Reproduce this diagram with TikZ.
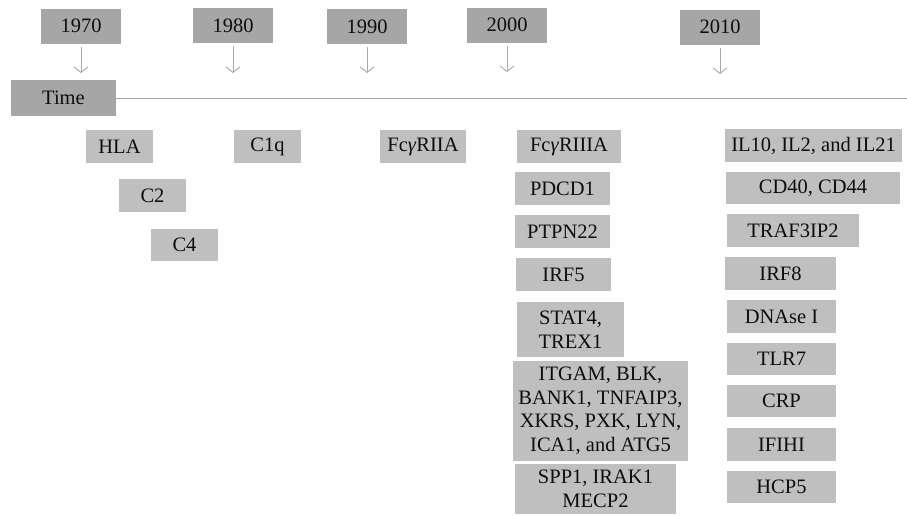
\documentclass[tikz,border=0pt]{standalone}
\usepackage{fontspec}
\setmainfont{Liberation Serif}
\usetikzlibrary{arrows.meta}
\definecolor{yeargray}{HTML}{A6A6A6}
\definecolor{genegray}{HTML}{BFBFBF}
\definecolor{linegray}{HTML}{A8A8A8}
\definecolor{txt}{HTML}{0D0D0D}
\newcommand{\gam}{\textit{γ}}
\tikzset{
  basebox/.style={inner sep=0pt, text=txt, align=center,
    font=\fontsize{20.5}{23.5}\selectfont},
  yearbox/.style={basebox, fill=yeargray, minimum width=80pt, minimum height=35pt},
  genebox/.style={basebox, fill=genegray},
  arr/.style={draw=linegray, line width=0.9pt, -{Straight Barb[length=5.5pt,width=14pt]}},
  axis/.style={draw=linegray, line width=1pt}
}
\begin{document}
\begin{tikzpicture}[x=1pt,y=-1pt]
\useasboundingbox (0,0) rectangle (907,515);
% years
\node[yearbox] (y1970) at (81,26) {1970};
\node[yearbox] (y1980) at (233,25.5) {1980};
\node[yearbox] (y1990) at (367,26.5) {1990};
\node[yearbox] (y2000) at (507,25) {2000};
\node[yearbox] (y2010) at (720,27) {2010};
\coordinate (a1970) at (81,73);
\coordinate (a1980) at (233,73);
\coordinate (a1990) at (367,73);
\coordinate (a2000) at (507,72);
\coordinate (a2010) at (720,74);
\draw[arr] ([yshift=-3pt]y1970.south) -- (a1970);
\draw[arr] ([yshift=-3pt]y1980.south) -- (a1980);
\draw[arr] ([yshift=-3pt]y1990.south) -- (a1990);
\draw[arr] ([yshift=-3pt]y2000.south) -- (a2000);
\draw[arr] ([yshift=-3pt]y2010.south) -- (a2010);
% time axis
\node[basebox, fill=yeargray, minimum width=105pt, minimum height=36pt] (time) at (63.5,98) {Time};
\coordinate (axend) at (907,98);
\draw[axis] (time.east) -- (axend);
% 1970s
\node[genebox, minimum width=67pt, minimum height=33pt] (hla) at (119.5,146.5) {HLA};
\node[genebox, minimum width=67pt, minimum height=33pt] (c2) at (152.5,195.5) {C2};
\node[genebox, minimum width=67pt, minimum height=32pt] (c4) at (184.5,245) {C4};
% 1980s
\node[genebox, minimum width=67pt, minimum height=33pt] (c1q) at (267.5,146.5) {C1q};
% 1990s
\node[genebox, minimum width=86pt, minimum height=33pt] (fc2a) at (423,146.5) {Fc\gam RIIA};
% 2000s
\node[genebox, minimum width=104pt, minimum height=33pt] (fc3a) at (569,146.5) {Fc\gam RIIIA};
\node[genebox, minimum width=95pt, minimum height=33pt] (pdcd1) at (562.5,188.5) {PDCD1};
\node[genebox, minimum width=95pt, minimum height=33pt] (ptpn22) at (562.5,231.5) {PTPN22};
\node[genebox, minimum width=95pt, minimum height=33pt] (irf5) at (563.5,274.5) {IRF5};
\node[genebox, minimum width=107pt, minimum height=55pt] (stat4) at (570.5,329.5) {STAT4,\\TREX1};
\node[genebox, minimum width=175pt, minimum height=100pt] (itgam) at (600.5,411) {ITGAM, BLK,\\BANK1, TNFAIP3,\\XKRS, PXK, LYN,\\ICA1, and ATG5};
\node[genebox, minimum width=161pt, minimum height=50pt] (spp1) at (595.5,489) {SPP1, IRAK1\\MECP2};
% 2010s
\node[genebox, minimum width=177pt, minimum height=33pt] (il10) at (813.5,145.5) {IL10, IL2, and IL21};
\node[genebox, minimum width=174pt, minimum height=32pt] (cd40) at (813,188) {CD40, CD44};
\node[genebox, minimum width=132pt, minimum height=33pt] (traf) at (793,230.5) {TRAF3IP2};
\node[genebox, minimum width=111pt, minimum height=33pt] (irf8) at (780.5,273.5) {IRF8};
\node[genebox, minimum width=109pt, minimum height=33pt] (dnase) at (781.5,316.5) {DNAse I};
\node[genebox, minimum width=109pt, minimum height=32pt] (tlr7) at (781.5,359) {TLR7};
\node[genebox, minimum width=109pt, minimum height=32pt] (crp) at (781.5,401) {CRP};
\node[genebox, minimum width=109pt, minimum height=33pt] (ifihi) at (781.5,444.5) {IFIHI};
\node[genebox, minimum width=109pt, minimum height=32pt] (hcp5) at (781.5,487) {HCP5};
\end{tikzpicture}
\end{document}
